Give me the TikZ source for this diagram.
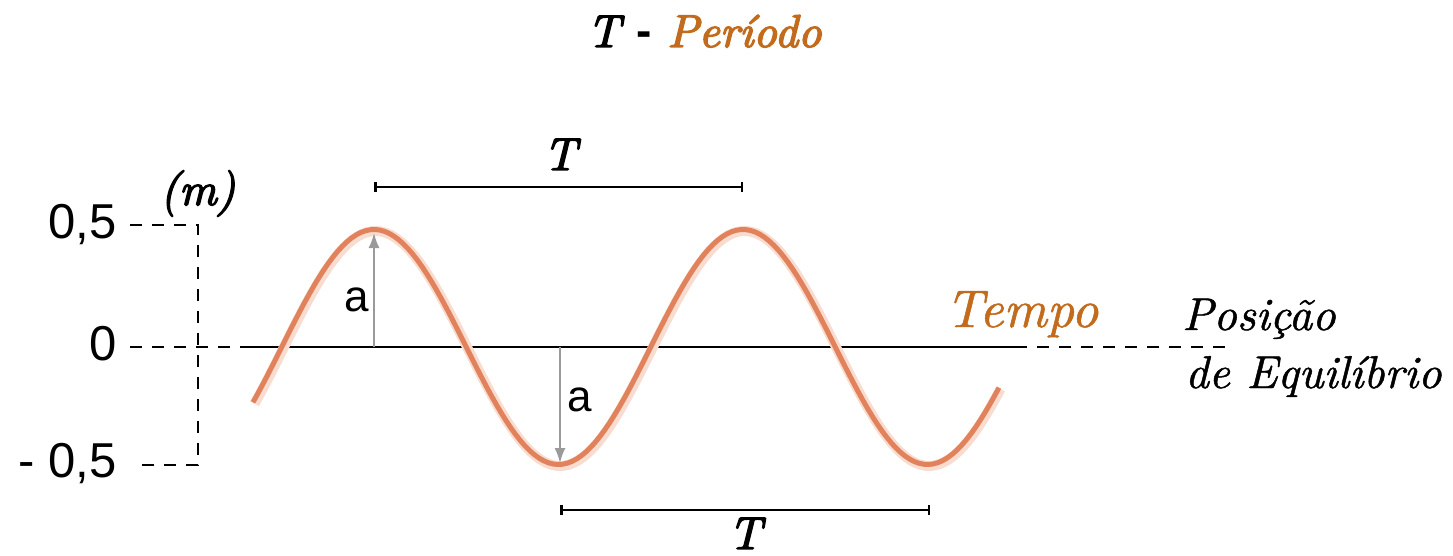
\documentclass[tikz,border=0pt]{standalone}
\usepackage{fontspec}
\newfontfamily\arialfont{Liberation Sans}
\newfontfamily\heavyital{lmroman10-italic}[Extension=.otf, FakeBold=3]
\newfontfamily\textital{lmroman10-italic}[Extension=.otf, FakeBold=1]
\usepackage{tikz}
\usetikzlibrary{arrows.meta,positioning}
\usepackage{xcolor}
\definecolor{wave}{HTML}{E2825C}
\definecolor{waveglow}{HTML}{F7DCCF}
\definecolor{titleorange}{HTML}{C26B1C}
\definecolor{ampgray}{HTML}{9A9A9A}

\begin{document}
\begin{tikzpicture}[
  x=1pt, y=-1pt,
  guide/.style={dash pattern=on 12pt off 10pt, line width=1.3pt},
  axis/.style={line width=1.6pt},
  bar/.style={line width=1.8pt, {Bar[width=10pt,line width=2.5pt]}-{Bar[width=10pt,line width=2.5pt]}},
  arrow/.style={-{Latex[length=15pt,width=11pt]}, ampgray, line width=2pt},
  num/.style={anchor=base east, inner sep=0pt, font=\arialfont\fontsize{49}{58}\selectfont},
  amplabel/.style={anchor=base west, inner sep=0pt, font=\arialfont\fontsize{44}{52}\selectfont},
  period/.style={anchor=base, inner sep=0pt, font=\heavyital\fontsize{46}{55}\selectfont},
  caption/.style={anchor=base west, inner sep=0pt, font=\textital\fontsize{46}{56}\selectfont}
]
\useasboundingbox (0,0) rectangle (1453,556);

% title
\node[anchor=base west, inner sep=0pt, font=\heavyital\fontsize{46}{55}\selectfont] (title) at (587,47)
  {T\hspace{16pt}{\arialfont\bfseries -}\hspace{16pt}\textcolor{titleorange}{Período}};

% vertical scale
\node[num] (ymax) at (117,238) {0,5};
\node[num] (yzero) at (117,360) {0};
\node[num] (ymin) at (117,477) {- 0,5};
\node[anchor=base west, inner sep=0pt, font=\heavyital\fontsize{46}{52}\selectfont] (unit) at (160,205) {(m)};
\coordinate (gtop) at (130,225);
\coordinate (gtopc) at (198,225);
\coordinate (gbotc) at (198,465);
\coordinate (gbot) at (133,465);
\draw[guide] (gtop) -- (gtopc) -- (gbotc) -- (gbot);

% equilibrium line
\coordinate (eqleft) at (130,347);
\coordinate (eqstart) at (240,347);
\coordinate (eqend) at (1015,347);
\coordinate (eqright) at (1230,347);
\draw[guide] (eqleft) -- (eqstart);
\draw[axis] (eqstart) -- (eqend);
\draw[guide] (eqend) -- (eqright);

% wave
\draw[waveglow, line width=10pt] plot[domain=253:999, samples=160] (\x+1.5, {348.5-117.5*cos(0.97561*(\x-374))});
\draw[wave, line width=5pt] plot[domain=253:999, samples=160] (\x, {347-117.5*cos(0.97561*(\x-374))});

% amplitude
\coordinate (ampbase1) at (374,347);
\coordinate (crest) at (374,233);
\coordinate (ampbase2) at (560,347);
\coordinate (trough) at (560,463);
\draw[arrow] (ampbase1) -- (crest);
\draw[arrow] (ampbase2) -- (trough);
\node[amplabel] (a1) at (344,311) {a};
\node[amplabel] (a2) at (567,411) {a};

% periods
\coordinate (topbarl) at (374,187);
\coordinate (topbarr) at (743,187);
\coordinate (botbarl) at (560,510);
\coordinate (botbarr) at (930,510);
\draw[bar] (topbarl) -- (topbarr);
\draw[bar] (botbarl) -- (botbarr);
\node[period] (ttop) at (560,170) {T};
\node[period] (tbot) at (745,549) {T};

% labels
\node[caption, font=\textital\fontsize{53}{64}\selectfont, text=titleorange] (tempo) at (945,327) {Tempo};
\node[caption] (posicao) at (1182,330) {Posição};
\node[caption] (equilibrio) at (1185,388) {de Equilíbrio};
\end{tikzpicture}
\end{document}
